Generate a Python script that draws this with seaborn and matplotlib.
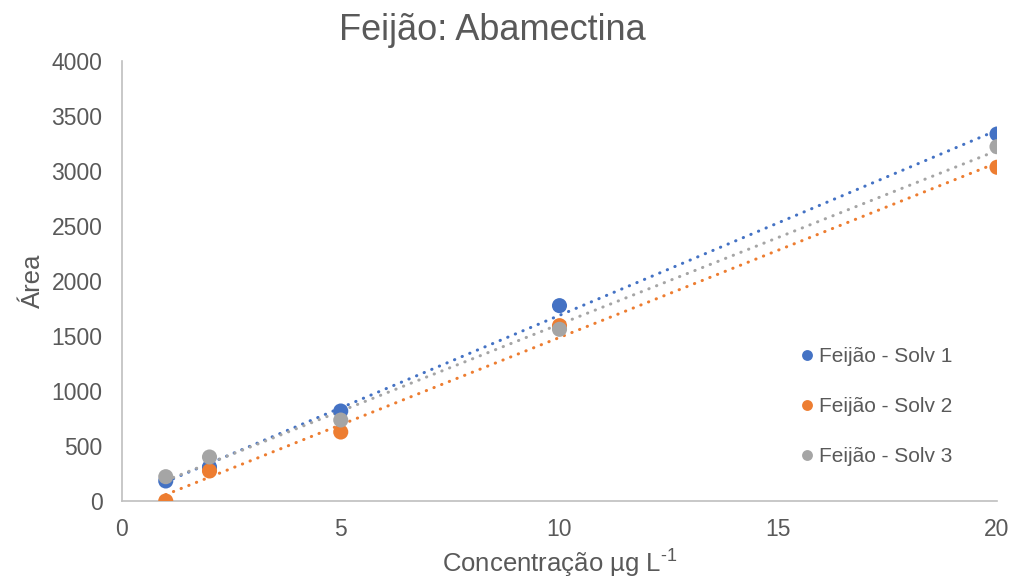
import numpy as np
import pandas as pd
import matplotlib
matplotlib.use("Agg")
import matplotlib.pyplot as plt
import seaborn as sns

# Calibration data: concentration (µg/L) vs peak area
concentracao = [1, 2, 5, 10, 20]
solv1 = [182, 309, 818, 1776, 3336]
solv2 = [0, 273, 627, 1594, 3034]
solv3 = [221, 400, 736, 1561, 3221]

series_names = ["Feijão - Solv 1", "Feijão - Solv 2", "Feijão - Solv 3"]
colors = ["#4472C4", "#ED7D31", "#A5A5A5"]

df = pd.DataFrame({
    "x": concentracao * 3,
    "y": solv1 + solv2 + solv3,
    "serie": [n for n in series_names for _ in concentracao],
})

sns.set_theme(style="white")
plt.rcParams["font.family"] = ["Liberation Sans", "DejaVu Sans"]
plt.rcParams["mathtext.fontset"] = "custom"
plt.rcParams["mathtext.rm"] = "Liberation Sans"
plt.rcParams["mathtext.it"] = "Liberation Sans"
text_color = "#595959"

fig = plt.figure(figsize=(10.16, 5.81), dpi=100)
ax = fig.add_axes([122 / 1016, 1 - 501 / 581, 875 / 1016, 440 / 581])

# Linear trendlines (dotted)
for name, col in zip(series_names, colors):
    sub = df[df["serie"] == name]
    sns.regplot(data=sub, x="x", y="y", ax=ax, scatter=False, ci=None,
                line_kws=dict(color=col, lw=2.2, linestyle=(0, (0.1, 2.6)),
                              dash_capstyle="round", solid_capstyle="round"))

sns.scatterplot(data=df, x="x", y="y", hue="serie", palette=colors,
                s=118, edgecolor="none", ax=ax, zorder=3, legend=True)

ax.set_xlim(0, 20)
ax.set_ylim(0, 4000)
ax.set_xticks([0, 5, 10, 15, 20])
ax.set_yticks(np.arange(0, 4001, 500))
ax.tick_params(axis="both", length=0, labelsize=16.5, colors=text_color)
ax.tick_params(axis="x", pad=12)
ax.tick_params(axis="y", pad=14)

for side in ["top", "right"]:
    ax.spines[side].set_visible(False)
for side in ["left", "bottom"]:
    ax.spines[side].set_color("#BFBFBF")
    ax.spines[side].set_linewidth(1.2)

fig.text(492 / 1016, 1 - 30 / 581, "Feijão: Abamectina", fontsize=26,
         color=text_color, ha="center", va="center")
ax.set_xlabel("Concentração µg L$^{\\text{-1}}$", fontsize=18.5, color=text_color, labelpad=5)
ax.set_ylabel("Área", fontsize=18.5, color=text_color, labelpad=5)

leg = ax.legend(loc="center left", bbox_to_anchor=(0.768, 0.2143), frameon=False,
                fontsize=15, labelspacing=1.5, handletextpad=0.0,
                handlelength=1.2, borderaxespad=0, borderpad=0, markerscale=0.72)
for t in leg.get_texts():
    t.set_color(text_color)

fig.savefig("out.png", dpi=100)
